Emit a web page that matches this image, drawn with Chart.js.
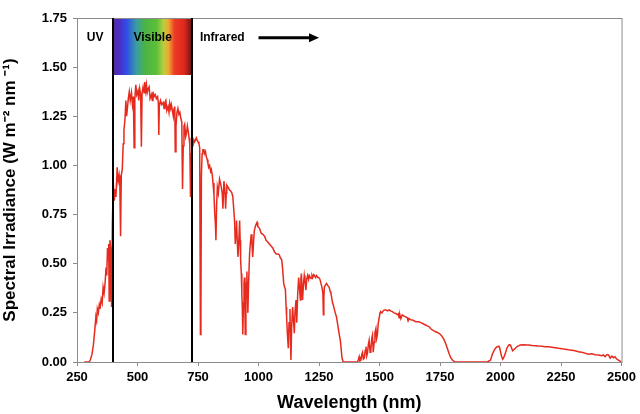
<!DOCTYPE html>
<html>

<head>
    <title>Solar Spectrum</title>
    <script src="https://cdn.jsdelivr.net/npm/chart.js"></script>
    <style>
        body {
            margin: 0;
            padding: 0;
            background-color: #fff;
        }

        .wrapper {
            width: 640px;
            height: 414px;
        }
    </style>
</head>

<body>
    <div class="wrapper">
        <canvas id="spectrum-chart" width="640" height="414"></canvas>
    </div>

    <script>
        // wavelength (nm) and spectral irradiance (W m-2 nm-1)
        const wavelengths = [
            280, 300, 305, 312, 318, 324, 328, 331, 334, 338, 342, 345, 350, 354, 358, 362, 366, 370, 373, 376,
            379, 381, 383, 386, 390, 393, 396, 400, 404, 408, 411, 416, 420, 424, 427, 430, 433, 437, 441, 444,
            448, 452, 455, 459, 462, 466, 470, 475, 479, 483, 486, 489, 493, 497, 502, 505, 509, 513, 516, 519,
            523, 527, 530, 534, 537, 540, 544, 548, 552, 558, 561, 564, 568, 573, 578, 583, 586, 588, 590, 595,
            600, 606, 610, 613, 617, 621, 626, 630, 633, 637, 640, 644, 648, 651, 654, 656, 659, 663, 667, 671,
            675, 679, 683, 686, 689, 692, 695, 699, 702, 706, 710, 713, 716, 719, 722, 725, 729, 733, 736, 740,
            743, 746, 750, 754, 757, 760, 762, 764, 767, 770, 774, 778, 781, 784, 788, 791, 794, 798, 802, 805,
            809, 812, 816, 819, 822, 824, 827, 830, 834, 839, 843, 846, 850, 853, 857, 861, 864, 867, 869, 874,
            880, 885, 890, 894, 898, 901, 904, 907, 909, 912, 915, 918, 922, 924, 926, 929, 931, 933, 935, 938,
            940, 942, 944, 945, 948, 950, 952, 954, 956, 959, 963, 966, 970, 973, 976, 980, 983, 987, 990, 994,
            997, 1004, 1011, 1018, 1025, 1031, 1038, 1045, 1052, 1059, 1066, 1073, 1080, 1086, 1090, 1096, 1100, 1104, 1108, 1111,
            1114, 1116, 1119, 1123, 1126, 1130, 1132, 1134, 1137, 1141, 1144, 1148, 1151, 1155, 1157, 1159, 1162, 1166, 1169, 1173,
            1175, 1177, 1180, 1182, 1186, 1189, 1192, 1196, 1199, 1203, 1207, 1210, 1214, 1217, 1221, 1224, 1228, 1231, 1235, 1240,
            1244, 1249, 1254, 1258, 1262, 1266, 1268, 1270, 1272, 1276, 1281, 1286, 1292, 1296, 1299, 1302, 1306, 1309, 1313, 1317,
            1322, 1326, 1331, 1335, 1338, 1342, 1345, 1350, 1409, 1412, 1416, 1419, 1423, 1427, 1430, 1433, 1437, 1441, 1444, 1447,
            1450, 1454, 1457, 1461, 1464, 1468, 1471, 1474, 1478, 1481, 1485, 1488, 1491, 1495, 1498, 1502, 1505, 1510, 1515, 1520,
            1526, 1533, 1540, 1546, 1553, 1560, 1567, 1574, 1578, 1581, 1584, 1588, 1594, 1600, 1608, 1615, 1618, 1622, 1629, 1636,
            1642, 1649, 1656, 1663, 1670, 1677, 1684, 1691, 1697, 1704, 1711, 1718, 1725, 1732, 1739, 1746, 1752, 1759, 1766, 1773,
            1780, 1787, 1794, 1801, 1812, 1945, 1952, 1959, 1965, 1972, 1979, 1986, 1993, 1997, 2000, 2004, 2009, 2014, 2020, 2026,
            2031, 2036, 2041, 2046, 2050, 2055, 2061, 2070, 2082, 2095, 2106, 2116, 2130, 2143, 2157, 2170, 2184, 2198, 2212, 2226,
            2240, 2253, 2267, 2281, 2295, 2308, 2322, 2336, 2349, 2363, 2377, 2391, 2405, 2418, 2425, 2432, 2440, 2446, 2453, 2460,
            2467, 2473, 2480, 2487, 2494, 2500
        ];

        const irradiance = [
            0, 0, 0.01, 0.04, 0.09, 0.17, 0.23, 0.21, 0.27, 0.25, 0.29, 0.27, 0.32, 0.30, 0.38, 0.35, 0.40, 0.48, 0.44, 0.58,
            0.52, 0.60, 0.31, 0.62, 0.56, 0.28, 0.70, 0.91, 0.82, 0.88, 0.84, 0.99, 0.92, 0.95, 0.90, 0.64, 0.95, 0.98, 1.11, 1.18,
            1.23, 1.33, 1.25, 1.30, 1.34, 1.375, 1.33, 1.37, 1.31, 1.35, 1.09, 1.34, 1.41, 1.36, 1.38, 1.33, 1.39, 1.36, 1.095, 1.37,
            1.40, 1.37, 1.425, 1.38, 1.41, 1.37, 1.39, 1.40, 1.34, 1.36, 1.33, 1.375, 1.35, 1.36, 1.34, 1.35, 1.32, 1.155, 1.30, 1.33,
            1.31, 1.32, 1.29, 1.32, 1.33, 1.28, 1.30, 1.27, 1.316, 1.29, 1.31, 1.28, 1.25, 1.29, 1.30, 1.07, 1.20, 1.27, 1.29, 1.26,
            1.27, 1.24, 1.22, 0.88, 1.10, 1.20, 1.21, 1.146, 1.16, 1.20, 1.17, 1.14, 1.11, 0.84, 1.06, 1.095, 1.10, 1.13, 1.12, 1.13,
            1.14, 1.13, 1.12, 1.11, 1.09, 0.14, 0.25, 0.95, 1.06, 1.08, 1.08, 1.06, 1.07, 1.045, 1.03, 1.01, 0.99, 1.00, 0.97, 0.98,
            0.95, 0.91, 0.85, 0.76, 0.70, 0.62, 0.80, 0.89, 0.86, 0.93, 0.91, 0.89, 0.86, 0.78, 0.92, 0.88, 0.78, 0.86, 0.90, 0.89,
            0.875, 0.87, 0.86, 0.84, 0.77, 0.72, 0.60, 0.68, 0.72, 0.62, 0.535, 0.60, 0.72, 0.62, 0.52, 0.45, 0.35, 0.28, 0.14, 0.30,
            0.40, 0.43, 0.25, 0.14, 0.32, 0.40, 0.46, 0.35, 0.25, 0.40, 0.55, 0.60, 0.65, 0.60, 0.535, 0.62, 0.67, 0.69, 0.70, 0.71,
            0.69, 0.68, 0.655, 0.65, 0.64, 0.62, 0.61, 0.60, 0.59, 0.58, 0.56, 0.55, 0.55, 0.545, 0.53, 0.52, 0.47, 0.40, 0.38, 0.37,
            0.28, 0.23, 0.15, 0.07, 0.20, 0.27, 0.10, 0.01, 0.18, 0.28, 0.22, 0.146, 0.26, 0.315, 0.25, 0.20, 0.35, 0.43, 0.38, 0.315,
            0.42, 0.45, 0.38, 0.315, 0.40, 0.44, 0.41, 0.366, 0.42, 0.44, 0.42, 0.44, 0.43, 0.425, 0.44, 0.43, 0.445, 0.44, 0.43, 0.44,
            0.43, 0.43, 0.42, 0.40, 0.38, 0.35, 0.24, 0.33, 0.38, 0.39, 0.40, 0.39, 0.38, 0.36, 0.35, 0.33, 0.30, 0.29, 0.27, 0.25,
            0.23, 0.20, 0.16, 0.13, 0.11, 0.06, 0.02, 0, 0, 0.01, 0.027, 0.005, 0.01, 0.04, 0.05, 0.015, 0.02, 0.06, 0.078, 0.03,
            0.044, 0.09, 0.11, 0.05, 0.06, 0.12, 0.137, 0.05, 0.10, 0.15, 0.17, 0.12, 0.137, 0.20, 0.22, 0.25, 0.256, 0.25, 0.26, 0.265,
            0.265, 0.26, 0.265, 0.26, 0.256, 0.25, 0.247, 0.24, 0.245, 0.225, 0.24, 0.22, 0.24, 0.235, 0.23, 0.225, 0.21, 0.222, 0.215, 0.214,
            0.21, 0.205, 0.205, 0.205, 0.20, 0.197, 0.192, 0.188, 0.184, 0.18, 0.17, 0.163, 0.158, 0.154, 0.15, 0.146, 0.14, 0.129, 0.115, 0.095,
            0.07, 0.044, 0.022, 0.01, 0, 0, 0.005, 0.01, 0.036, 0.055, 0.07, 0.078, 0.081, 0.07, 0.052, 0.03, 0.014, 0.025, 0.044, 0.07,
            0.081, 0.088, 0.086, 0.07, 0.057, 0.062, 0.07, 0.08, 0.086, 0.088, 0.087, 0.086, 0.084, 0.083, 0.081, 0.080, 0.078, 0.077, 0.075, 0.073,
            0.07, 0.068, 0.065, 0.062, 0.06, 0.057, 0.052, 0.05, 0.045, 0.04, 0.042, 0.037, 0.036, 0.032, 0.036, 0.027, 0.038, 0.036, 0.02, 0.03,
            0.022, 0.027, 0.015, 0.01, 0.004, 0
        ];

        // axis ticks
        const xTicks = [250, 500, 750, 1000, 1250, 1500, 1750, 2000, 2250, 2500];
        const yTicks = [0, 0.25, 0.5, 0.75, 1.0, 1.25, 1.5, 1.75];

        // region labels
        const visibleBand = [400, 725];
        const bandBottom = 1.46;
        const labelY = 1.65;
        const arrowRange = [1000, 1250];

        const spectrumData = wavelengths.map((w, i) => ({ x: w, y: irradiance[i] }));

        const overlayPlugin = {
            id: 'overlay',
            beforeDatasetsDraw(chart) {
                const ctx = chart.ctx;
                const xs = chart.scales.x;
                const ys = chart.scales.y;
                const x0 = xs.getPixelForValue(visibleBand[0]);
                const x1 = xs.getPixelForValue(visibleBand[1]);
                const yTop = ys.getPixelForValue(yTicks[yTicks.length - 1]);
                const yBot = ys.getPixelForValue(bandBottom);

                // rainbow block
                const grad = ctx.createLinearGradient(x0, 0, x1, 0);
                grad.addColorStop(0.00, '#5a2a96');
                grad.addColorStop(0.08, '#4a2ec8');
                grad.addColorStop(0.17, '#2f4fe6');
                grad.addColorStop(0.30, '#3aa0a0');
                grad.addColorStop(0.40, '#4cb244');
                grad.addColorStop(0.55, '#5cbf3a');
                grad.addColorStop(0.64, '#b8cf40');
                grad.addColorStop(0.70, '#f0a832');
                grad.addColorStop(0.78, '#ea3a25');
                grad.addColorStop(0.90, '#e0281e');
                grad.addColorStop(1.00, '#6a1410');
                ctx.save();
                ctx.fillStyle = grad;
                ctx.fillRect(x0, yTop, x1 - x0, yBot - yTop);
                ctx.restore();
            },
            afterDatasetsDraw(chart) {
                const ctx = chart.ctx;
                const xs = chart.scales.x;
                const ys = chart.scales.y;
                const area = chart.chartArea;

                ctx.save();
                // plot border
                ctx.strokeStyle = '#8c8c8c';
                ctx.lineWidth = 1;
                ctx.strokeRect(area.left + 0.5, area.top + 0.5, area.right - area.left, area.bottom - area.top);

                // visible boundaries
                ctx.strokeStyle = '#000';
                ctx.lineWidth = 2;
                visibleBand.forEach(w => {
                    const px = Math.round(xs.getPixelForValue(w));
                    ctx.beginPath();
                    ctx.moveTo(px, area.top);
                    ctx.lineTo(px, area.bottom);
                    ctx.stroke();
                });

                // labels
                const ly = ys.getPixelForValue(labelY);
                ctx.fillStyle = '#000';
                ctx.font = 'bold 12px "Liberation Sans", Arial, sans-serif';
                ctx.textBaseline = 'middle';
                ctx.textAlign = 'center';
                ctx.fillText('UV', (area.left + xs.getPixelForValue(visibleBand[0])) / 2, ly);
                ctx.fillText('Visible', (xs.getPixelForValue(visibleBand[0]) + xs.getPixelForValue(visibleBand[1])) / 2, ly);
                ctx.textAlign = 'left';
                ctx.fillText('Infrared', xs.getPixelForValue(visibleBand[1]) + 8, ly);

                // arrow
                const ax0 = xs.getPixelForValue(arrowRange[0]);
                const ax1 = xs.getPixelForValue(arrowRange[1]);
                ctx.lineWidth = 3;
                ctx.beginPath();
                ctx.moveTo(ax0, ly);
                ctx.lineTo(ax1 - 8, ly);
                ctx.stroke();
                ctx.beginPath();
                ctx.moveTo(ax1, ly);
                ctx.lineTo(ax1 - 10, ly - 4.5);
                ctx.lineTo(ax1 - 10, ly + 4.5);
                ctx.closePath();
                ctx.fill();
                ctx.restore();
            }
        };

        const ctx = document.getElementById('spectrum-chart').getContext('2d');
        const spectrumChart = new Chart(ctx, {
            type: 'line',
            data: {
                datasets: [{
                    label: 'Spectral irradiance',
                    data: spectrumData,
                    borderColor: '#e62a1e',
                    borderWidth: 1.5,
                    pointRadius: 0,
                    fill: false,
                    tension: 0
                }]
            },
            options: {
                responsive: false,
                animation: false,
                layout: {
                    padding: { top: 18, right: 17, left: 0, bottom: 0 }
                },
                plugins: {
                    legend: { display: false },
                    tooltip: { enabled: false }
                },
                scales: {
                    x: {
                        type: 'linear',
                        min: xTicks[0],
                        max: xTicks[xTicks.length - 1],
                        afterBuildTicks: scale => {
                            scale.ticks = xTicks.map(v => ({ value: v }));
                        },
                        afterFit: scale => {
                            scale.height = 52;
                        },
                        border: { display: true, color: '#8c8c8c' },
                        grid: {
                            drawOnChartArea: false,
                            drawTicks: true,
                            tickLength: 4,
                            color: '#8c8c8c'
                        },
                        ticks: {
                            color: '#000',
                            padding: 4,
                            maxRotation: 0,
                            callback: v => String(v),
                            font: { family: '"Liberation Sans", Arial, sans-serif', size: 13, weight: 'bold' }
                        },
                        title: {
                            display: true,
                            text: 'Wavelength (nm)',
                            color: '#000',
                            padding: { top: 4, bottom: 0 },
                            font: { family: '"Liberation Sans", Arial, sans-serif', size: 18, weight: 'bold' }
                        }
                    },
                    y: {
                        min: yTicks[0],
                        max: yTicks[yTicks.length - 1],
                        afterBuildTicks: scale => {
                            scale.ticks = yTicks.map(v => ({ value: v }));
                        },
                        afterFit: scale => {
                            scale.width = 77;
                        },
                        border: { display: true, color: '#8c8c8c' },
                        grid: {
                            drawOnChartArea: false,
                            drawTicks: true,
                            tickLength: 4,
                            color: '#8c8c8c'
                        },
                        ticks: {
                            color: '#000',
                            padding: 6,
                            callback: v => v.toFixed(2),
                            font: { family: '"Liberation Sans", Arial, sans-serif', size: 13, weight: 'bold' }
                        },
                        title: {
                            display: true,
                            text: 'Spectral Irradiance (W m\u207B\u00B2 nm \u207B\u00B9)',
                            color: '#000',
                            padding: { top: 0, bottom: 0 },
                            font: { family: '"Liberation Sans", Arial, sans-serif', size: 17, weight: 'bold' }
                        }
                    }
                }
            },
            plugins: [overlayPlugin]
        });
    </script>
</body>

</html>
